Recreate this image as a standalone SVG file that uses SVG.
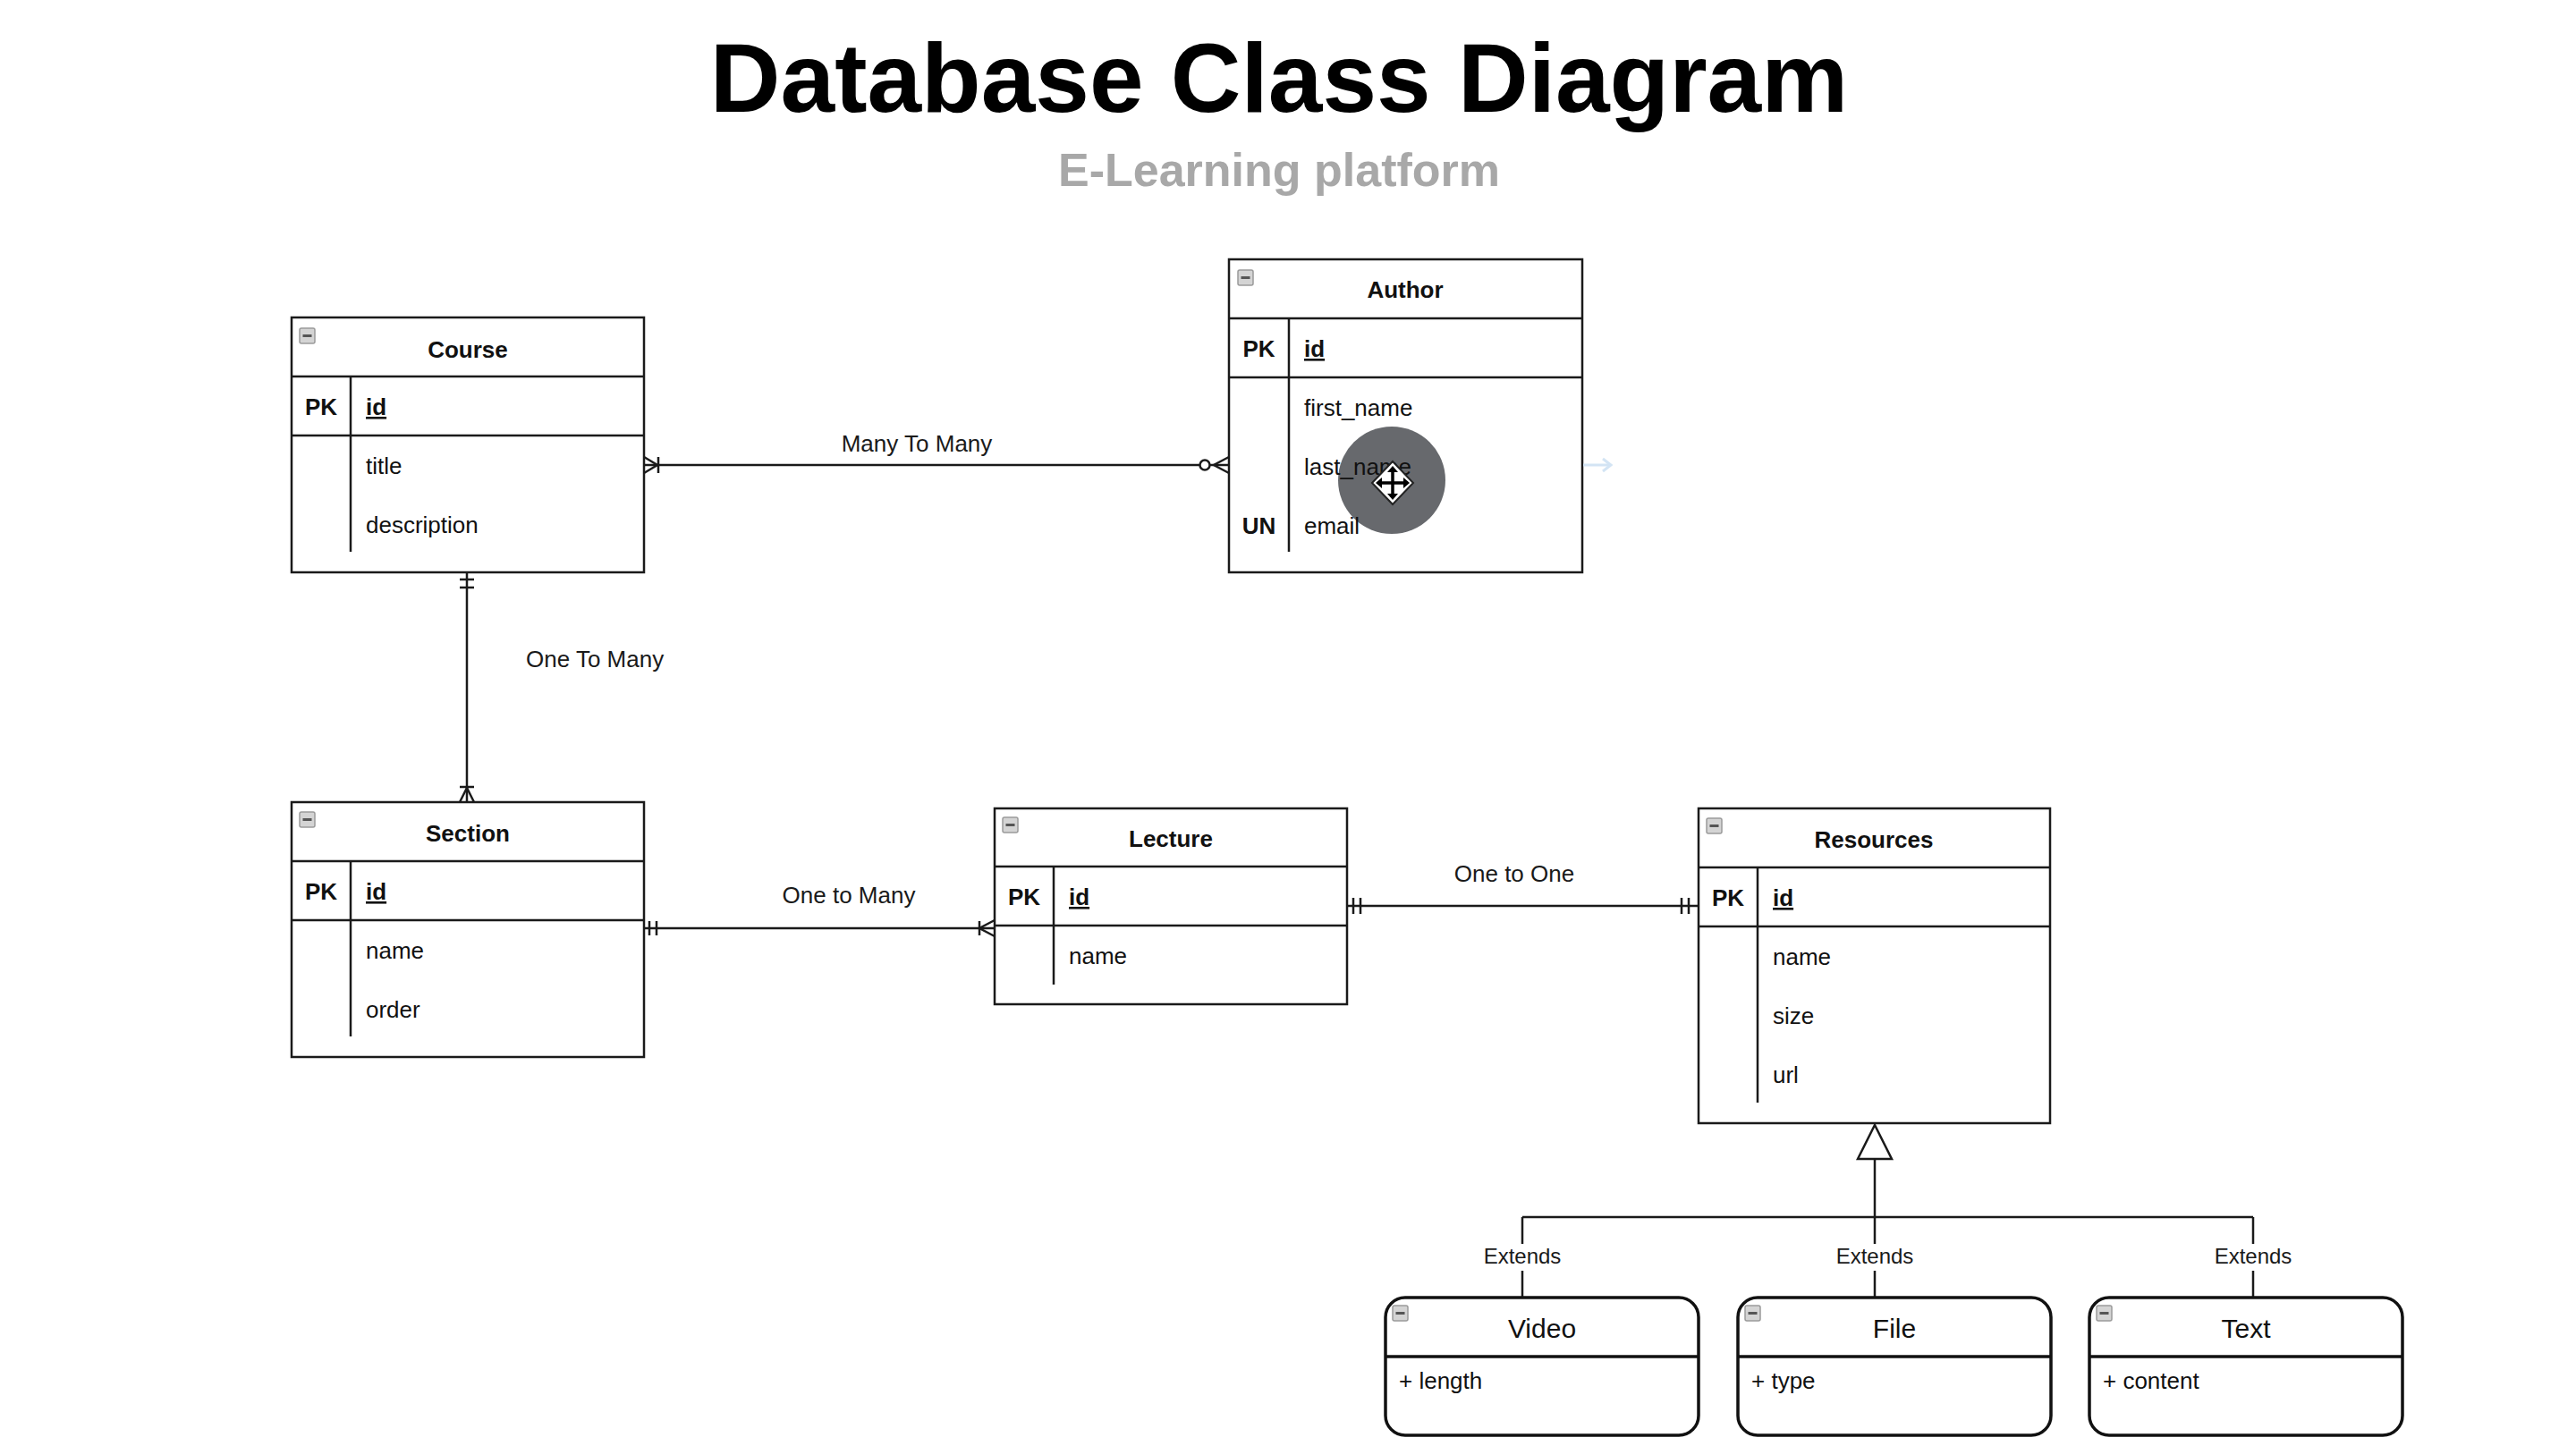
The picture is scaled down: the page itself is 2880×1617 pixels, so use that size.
<svg xmlns="http://www.w3.org/2000/svg" width="2880" height="1617" viewBox="0 0 2880 1617">
<style>
.bg{fill:#fff}
.box{fill:#fff;stroke:#1a1a1a;stroke-width:2.5}
.sub{fill:#fff;stroke:#111;stroke-width:3.5}
.ln{stroke:#1a1a1a;stroke-width:2.5;fill:none}
.sl{stroke:#111;stroke-width:3.5;fill:none}
.t{font-family:"Liberation Sans",Arial,Helvetica,sans-serif;font-size:26px;fill:#111}
.b{font-weight:bold}
.m{text-anchor:middle}
.u{text-decoration:underline}
.lbl{font-family:"Liberation Sans",Arial,Helvetica,sans-serif;font-size:26px;fill:#1a1a1a}
.ext{font-family:"Liberation Sans",Arial,Helvetica,sans-serif;font-size:24px;fill:#1a1a1a;text-anchor:middle}
.big{font-size:30px}
</style>
<defs>
<g id="minus">
<rect x="0" y="0" width="17" height="17" rx="2" fill="#d4d4d4" stroke="#9a9a9a" stroke-width="1.5"/>
<rect x="3.5" y="7" width="10" height="3" fill="#555"/>
</g>
</defs>
<rect class="bg" x="0" y="0" width="2880" height="1617"/>

<g id="title">
<text x="1430" y="125" font-family="Liberation Sans, Arial, sans-serif" font-size="109" font-weight="bold" fill="#000" text-anchor="middle">Database Class Diagram</text>
<text x="1430" y="208" font-family="Liberation Sans, Arial, sans-serif" font-size="52" font-weight="bold" fill="#a8a8a8" text-anchor="middle">E-Learning platform</text>
</g>

<g id="connectors">
<!-- Course - Author : Many To Many -->
<line class="ln" x1="720" y1="520" x2="1341" y2="520"/>
<polyline class="ln" points="720,511 735,520 720,529"/>
<line class="ln" x1="736" y1="511" x2="736" y2="529"/>
<circle cx="1347" cy="520" r="5.5" fill="#fff" stroke="#1a1a1a" stroke-width="2.5"/>
<line class="ln" x1="1353" y1="520" x2="1374" y2="520"/>
<polyline class="ln" points="1374,511 1357,520 1374,529"/>
<text class="lbl m" x="1025" y="505">Many To Many</text>

<!-- Course - Section : One To Many -->
<line class="ln" x1="522" y1="640" x2="522" y2="897"/>
<line class="ln" x1="514" y1="648" x2="530" y2="648"/>
<line class="ln" x1="514" y1="657" x2="530" y2="657"/>
<line class="ln" x1="514" y1="880" x2="530" y2="880"/>
<polyline class="ln" points="514,897 522,881 530,897"/>
<text class="lbl" x="588" y="746">One To Many</text>

<!-- Section - Lecture : One to Many -->
<line class="ln" x1="720" y1="1038" x2="1112" y2="1038"/>
<line class="ln" x1="726" y1="1030" x2="726" y2="1046"/>
<line class="ln" x1="734" y1="1030" x2="734" y2="1046"/>
<line class="ln" x1="1095" y1="1030" x2="1095" y2="1046"/>
<polyline class="ln" points="1112,1029 1095,1038 1112,1047"/>
<text class="lbl m" x="949" y="1010">One to Many</text>

<!-- Lecture - Resources : One to One -->
<line class="ln" x1="1506" y1="1013" x2="1899" y2="1013"/>
<line class="ln" x1="1513" y1="1004" x2="1513" y2="1022"/>
<line class="ln" x1="1521" y1="1004" x2="1521" y2="1022"/>
<line class="ln" x1="1880" y1="1004" x2="1880" y2="1022"/>
<line class="ln" x1="1888" y1="1004" x2="1888" y2="1022"/>
<text class="lbl m" x="1693" y="986">One to One</text>

<!-- Inheritance -->
<line class="ln" x1="2096" y1="1296" x2="2096" y2="1451"/>
<line class="ln" x1="1702" y1="1361" x2="2519" y2="1361"/>
<line class="ln" x1="1702" y1="1361" x2="1702" y2="1451"/>
<line class="ln" x1="2519" y1="1361" x2="2519" y2="1451"/>
<polygon points="2096,1258 2077,1296 2115,1296" fill="#fff" stroke="#1a1a1a" stroke-width="2.5" stroke-linejoin="miter"/>
<rect x="1656" y="1391" width="92" height="30" fill="#fff"/>
<rect x="2050" y="1391" width="92" height="30" fill="#fff"/>
<rect x="2473" y="1391" width="92" height="30" fill="#fff"/>
<text class="ext" x="1702" y="1413">Extends</text>
<text class="ext" x="2096" y="1413">Extends</text>
<text class="ext" x="2519" y="1413">Extends</text>
</g>

<g id="course">
<rect class="box" x="326" y="355" width="394" height="285"/>
<line class="ln" x1="326" y1="421" x2="720" y2="421"/>
<line class="ln" x1="326" y1="487" x2="720" y2="487"/>
<line class="ln" x1="392" y1="421" x2="392" y2="617"/>
<use href="#minus" x="335" y="367"/>
<text class="t b m" x="523" y="400">Course</text>
<text class="t b m" x="359" y="464">PK</text>
<text class="t b u" x="409" y="464">id</text>
<text class="t" x="409" y="530">title</text>
<text class="t" x="409" y="596">description</text>
</g>

<g id="author">
<rect class="box" x="1374" y="290" width="395" height="350"/>
<line class="ln" x1="1374" y1="356" x2="1769" y2="356"/>
<line class="ln" x1="1374" y1="422" x2="1769" y2="422"/>
<line class="ln" x1="1441" y1="356" x2="1441" y2="617"/>
<use href="#minus" x="1384" y="302"/>
<circle id="cursor-disc" cx="1556" cy="537" r="60" fill="#67696d"/>
<text class="t b m" x="1571" y="333">Author</text>
<text class="t b m" x="1407.5" y="399">PK</text>
<text class="t b u" x="1458" y="399">id</text>
<text class="t" x="1458" y="465">first_name</text>
<text class="t" x="1458" y="531">last_name</text>
<text class="t b m" x="1407.5" y="597">UN</text>
<text class="t" x="1458" y="597">email</text>
</g>

<g id="section">
<rect class="box" x="326" y="897" width="394" height="285"/>
<line class="ln" x1="326" y1="963" x2="720" y2="963"/>
<line class="ln" x1="326" y1="1029" x2="720" y2="1029"/>
<line class="ln" x1="392" y1="963" x2="392" y2="1159"/>
<use href="#minus" x="335" y="908"/>
<text class="t b m" x="523" y="941">Section</text>
<text class="t b m" x="359" y="1006">PK</text>
<text class="t b u" x="409" y="1006">id</text>
<text class="t" x="409" y="1072">name</text>
<text class="t" x="409" y="1138">order</text>
</g>

<g id="lecture">
<rect class="box" x="1112" y="904" width="394" height="219"/>
<line class="ln" x1="1112" y1="969" x2="1506" y2="969"/>
<line class="ln" x1="1112" y1="1035" x2="1506" y2="1035"/>
<line class="ln" x1="1178" y1="969" x2="1178" y2="1101"/>
<use href="#minus" x="1121" y="914"/>
<text class="t b m" x="1309" y="947">Lecture</text>
<text class="t b m" x="1145" y="1012">PK</text>
<text class="t b u" x="1195" y="1012">id</text>
<text class="t" x="1195" y="1078">name</text>
</g>

<g id="resources">
<rect class="box" x="1899" y="904" width="393" height="352"/>
<line class="ln" x1="1899" y1="970" x2="2292" y2="970"/>
<line class="ln" x1="1899" y1="1036" x2="2292" y2="1036"/>
<line class="ln" x1="1965" y1="970" x2="1965" y2="1233"/>
<use href="#minus" x="1908" y="915"/>
<text class="t b m" x="2095" y="948">Resources</text>
<text class="t b m" x="1932" y="1013">PK</text>
<text class="t b u" x="1982" y="1013">id</text>
<text class="t" x="1982" y="1079">name</text>
<text class="t" x="1982" y="1145">size</text>
<text class="t" x="1982" y="1211">url</text>
</g>

<g id="video">
<rect class="sub" x="1549" y="1451" width="350" height="154" rx="22"/>
<line class="sl" x1="1549" y1="1517" x2="1899" y2="1517"/>
<use href="#minus" x="1557" y="1460"/>
<text class="t big m" x="1724" y="1496">Video</text>
<text class="t" x="1564" y="1553">+ length</text>
</g>

<g id="file">
<rect class="sub" x="1943" y="1451" width="350" height="154" rx="22"/>
<line class="sl" x1="1943" y1="1517" x2="2293" y2="1517"/>
<use href="#minus" x="1951" y="1460"/>
<text class="t big m" x="2118" y="1496">File</text>
<text class="t" x="1958" y="1553">+ type</text>
</g>

<g id="text">
<rect class="sub" x="2336" y="1451" width="350" height="154" rx="22"/>
<line class="sl" x1="2336" y1="1517" x2="2686" y2="1517"/>
<use href="#minus" x="2344" y="1460"/>
<text class="t big m" x="2511" y="1496">Text</text>
<text class="t" x="2351" y="1553">+ content</text>
</g>

<g id="cursor-overlay">
<line x1="1770" y1="520" x2="1800" y2="520" stroke="#d3e4f4" stroke-width="3"/>
<polyline points="1792,513 1801,520 1792,527" fill="none" stroke="#d3e4f4" stroke-width="3"/>
<polygon points="1557,516 1580,540 1557,564 1534,540" fill="#fff" stroke="#222" stroke-width="2"/>
<path d="M1557,523 L1557,557 M1540,540 L1574,540" stroke="#000" stroke-width="3.5" fill="none"/>
<path d="M1551,528 L1557,521 L1563,528 Z M1551,552 L1557,559 L1563,552 Z M1545,534 L1538,540 L1545,546 Z M1569,534 L1576,540 L1569,546 Z" fill="#000"/>
</g>
</svg>
